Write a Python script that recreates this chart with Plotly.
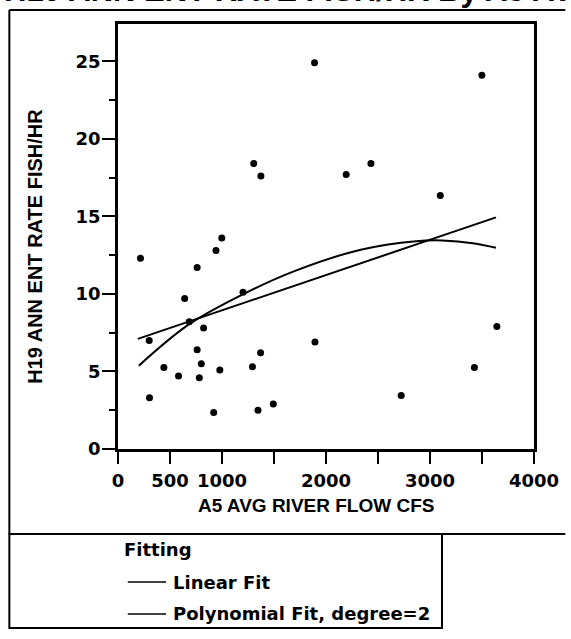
import plotly.graph_objects as go

# ---- data ----
flow_cfs = [216, 300, 303, 441, 582, 641, 685, 761, 761, 782, 801, 823, 920, 942,
            979, 998, 1202, 1293, 1305, 1346, 1371, 1374, 1493, 1890, 1894, 2194,
            2432, 2723, 3099, 3427, 3499, 3643]
rate_fish_hr = [12.3, 7.0, 3.3, 5.25, 4.7, 9.7, 8.2, 11.7, 6.4, 4.6, 5.5, 7.8, 2.35, 12.8,
                5.1, 13.6, 10.1, 5.3, 18.4, 2.5, 6.2, 17.6, 2.9, 24.9, 6.9, 17.7,
                18.4, 3.45, 16.35, 5.25, 24.1, 7.9]

linear_x = [191, 3634]
linear_y = [7.1, 14.93]

poly_x = [200, 685, 1239, 1709, 2334, 2867, 3117, 3430, 3634]
poly_y = [5.37, 8.05, 10.1, 11.5, 12.85, 13.4, 13.45, 13.25, 12.97]

x_tickvals = [0, 500, 1000, 1500, 2000, 2500, 3000, 3500, 4000]
x_ticktext = ["0", "500", "1000", "", "2000", "", "3000", "", "4000"]
y_tickvals = [0, 5, 10, 15, 20, 25]
y_minor = [2.5, 7.5, 12.5, 17.5, 22.5]

title_text = "H19 ANN ENT RATE FISH/HR By A5 AVG RIVER FLOW CFS"
x_title = "A5 AVG RIVER FLOW CFS"
y_title = "H19 ANN ENT RATE FISH/HR"
legend_title = "Fitting"
legend_names = ["Linear Fit", "Polynomial Fit, degree=2"]

# ---- layout geometry (pixels) ----
W, H = 571, 639
L, R, T, B = 118, 543, 24, 449


def px(xp):
    return (xp - L) / (R - L)


def py(yp):
    return (B - yp) / (B - T)


fig = go.Figure()
fig.add_trace(go.Scatter(x=flow_cfs, y=rate_fish_hr, mode="markers",
                         marker=dict(color="black", size=7), showlegend=False,
                         name="data"))
fig.add_trace(go.Scatter(x=linear_x, y=linear_y, mode="lines",
                         line=dict(color="black", width=2), name=legend_names[0],
                         showlegend=False))
fig.add_trace(go.Scatter(x=poly_x, y=poly_y, mode="lines", line_shape="spline",
                         line=dict(color="black", width=2), name=legend_names[1],
                         showlegend=False))

tickfont = dict(family="DejaVu Sans", size=18, color="black", weight="bold")

fig.update_xaxes(range=[0, 4000], tickvals=x_tickvals, ticktext=x_ticktext,
                 ticks="outside", ticklen=12, tickwidth=2, tickcolor="black",
                 showline=True, linewidth=2.5, linecolor="black", mirror=True,
                 showgrid=False, zeroline=False, tickfont=tickfont,
                 ticklabelstandoff=2)
fig.update_yaxes(range=[0, 27.4], tickvals=y_tickvals,
                 ticks="outside", ticklen=13, tickwidth=2, tickcolor="black",
                 minor=dict(tickvals=y_minor, ticks="outside", ticklen=6,
                            tickwidth=2, tickcolor="black"),
                 showline=True, linewidth=2.5, linecolor="black", mirror=True,
                 showgrid=False, zeroline=False, tickfont=tickfont,
                 ticklabelstandoff=-2)

shapes = []
line_style = dict(color="black", width=2)
# outer frame (top, left, bottom)
shapes.append(dict(type="line", xref="paper", yref="paper", x0=px(7), x1=px(575),
                   y0=py(10), y1=py(10), line=line_style))
shapes.append(dict(type="line", xref="paper", yref="paper", x0=px(7), x1=px(7),
                   y0=py(10), y1=py(534), line=line_style))
shapes.append(dict(type="line", xref="paper", yref="paper", x0=px(7), x1=px(575),
                   y0=py(534), y1=py(534), line=line_style))
# legend box
shapes.append(dict(type="rect", xref="paper", yref="paper", x0=px(7), x1=px(449),
                   y0=py(534), y1=py(628), line=line_style))
# legend line samples
for yy in (582, 614):
    shapes.append(dict(type="line", xref="paper", yref="paper", x0=px(128), x1=px(167),
                       y0=py(yy), y1=py(yy), line=dict(color="black", width=1.5)))

label_font = dict(family="Liberation Sans, Arial", size=19, color="black", weight="bold")
legend_font = dict(family="DejaVu Sans", size=18, color="black", weight="bold")

annotations = [
    dict(text=title_text, xref="paper", yref="paper", x=px(0), y=py(10),
         xanchor="left", yanchor="bottom", showarrow=False,
         font=dict(family="Liberation Sans, Arial", size=31, color="black", weight="bold")),
    dict(text=x_title, xref="paper", yref="paper", x=px(320), y=py(505),
         xanchor="center", yanchor="middle", showarrow=False, font=label_font),
    dict(text=y_title, xref="paper", yref="paper", x=px(33), y=py(246),
         xanchor="center", yanchor="middle", showarrow=False, textangle=-90,
         font=dict(family="Liberation Sans, Arial", size=20, color="black", weight="bold")),
    dict(text=legend_title, xref="paper", yref="paper", x=px(122), y=py(549),
         xanchor="left", yanchor="middle", showarrow=False, font=legend_font),
    dict(text=legend_names[0], xref="paper", yref="paper", x=px(172), y=py(582),
         xanchor="left", yanchor="middle", showarrow=False, font=legend_font),
    dict(text=legend_names[1], xref="paper", yref="paper", x=px(172), y=py(613),
         xanchor="left", yanchor="middle", showarrow=False, font=legend_font),
]

fig.update_layout(width=W, height=H, autosize=False,
                  margin=dict(l=L, r=W - R, t=T, b=H - B, pad=0),
                  plot_bgcolor="white", paper_bgcolor="white",
                  shapes=shapes, annotations=annotations, showlegend=False)

fig.write_html("out.html", config={"displayModeBar": False},
               post_script="document.body.style.margin='0';document.body.style.overflow='hidden';")
